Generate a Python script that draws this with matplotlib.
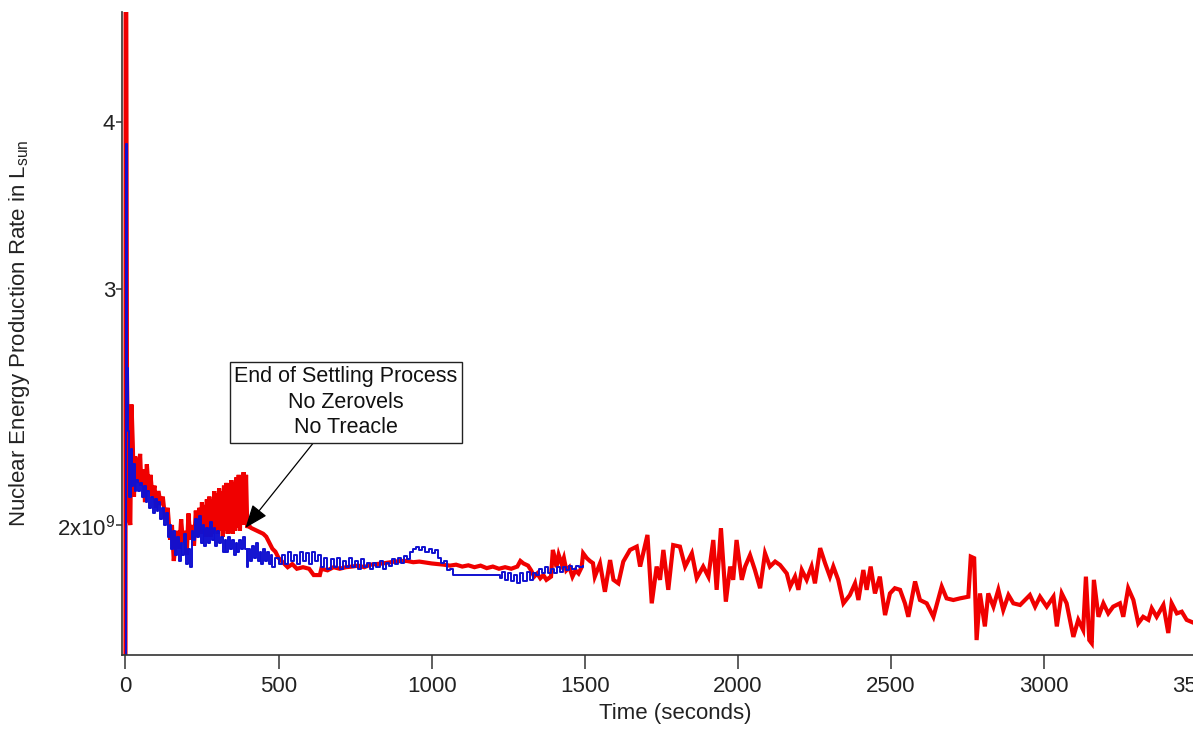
import numpy as np
import matplotlib
matplotlib.use("Agg")
import matplotlib.pyplot as plt

plt.rcParams['font.family'] = ['Liberation Sans', 'DejaVu Sans']
plt.rcParams['mathtext.default'] = 'regular'

# values: (time in s, rate in units of 1e9 L_sun)
red_pts = [
    (0, 1.00), (1, 8.00), (5, 2.60), (9, 2.20), (12, 2.02), (16, 2.00), (20, 2.46),
    (24, 2.30), (28, 2.10), (32, 2.25), (38, 2.15), (44, 2.20), (48, 2.26), (52, 2.14),
    (58, 2.20), (64, 2.08), (70, 2.22), (76, 2.12), (82, 2.18), (88, 2.10), (95, 2.14),
    (100, 2.06), (108, 2.12), (115, 2.07), (122, 2.10), (130, 2.02), (138, 2.06),
    (146, 1.95), (152, 2.00), (158, 1.88), (164, 1.94), (170, 1.98), (176, 1.92),
    (182, 2.02), (188, 1.94), (194, 1.98), (200, 1.90), (206, 2.04), (212, 1.95),
    (218, 2.00), (224, 1.93), (230, 2.05), (236, 1.96), (242, 2.06),
    (246, 1.97), (250, 2.08), (254, 1.97), (258, 2.07), (262, 1.96), (266, 2.09),
    (270, 1.98), (274, 2.10), (278, 1.96), (282, 2.09), (286, 1.97), (290, 2.12),
    (294, 1.98), (298, 2.11), (302, 1.97), (306, 2.13), (310, 1.98), (314, 2.12),
    (318, 1.96), (322, 2.14), (326, 1.98), (330, 2.15), (334, 1.97), (338, 2.14),
    (342, 1.99), (346, 2.16), (350, 1.97), (354, 2.15), (358, 1.98), (362, 2.17),
    (366, 1.99), (370, 2.18), (374, 1.98), (378, 2.17), (382, 2.00), (386, 2.19),
    (390, 2.00), (394, 2.18), (398, 1.99),
    (402, 2.00), (410, 1.99), (420, 1.985), (430, 1.98), (440, 1.975), (450, 1.97),
    (460, 1.96), (470, 1.94), (480, 1.92), (490, 1.91), (500, 1.89), (510, 1.88),
    (520, 1.87), (530, 1.86), (545, 1.87), (560, 1.855), (580, 1.86), (600, 1.855),
    (615, 1.835), (635, 1.835), (640, 1.855), (660, 1.85), (680, 1.86), (700, 1.855),
    (720, 1.86), (740, 1.862), (760, 1.865), (780, 1.86), (800, 1.868), (820, 1.87),
    (840, 1.872), (860, 1.875), (880, 1.878), (900, 1.88), (920, 1.88), (940, 1.876),
    (960, 1.878), (980, 1.875), (1000, 1.872), (1020, 1.87), (1040, 1.868),
    (1060, 1.865), (1080, 1.868), (1100, 1.862), (1120, 1.866), (1140, 1.86),
    (1160, 1.865), (1180, 1.857), (1200, 1.862), (1220, 1.855), (1240, 1.86),
    (1260, 1.855), (1280, 1.862), (1290, 1.88), (1300, 1.872), (1315, 1.865),
    (1325, 1.85), (1335, 1.83), (1345, 1.84), (1355, 1.825), (1365, 1.835),
    (1375, 1.82), (1390, 1.83), (1396, 1.916), (1400, 1.90), (1408, 1.86),
    (1415, 1.90), (1425, 1.87), (1432, 1.89), (1440, 1.85), (1450, 1.86),
    (1460, 1.83), (1470, 1.85), (1480, 1.84), (1490, 1.86), (1495, 1.905),
    (1507, 1.889), (1517, 1.880), (1527, 1.873), (1533, 1.830), (1550, 1.872),
    (1566, 1.783), (1583, 1.883), (1594, 1.820), (1610, 1.809), (1626, 1.878),
    (1648, 1.916), (1670, 1.927), (1681, 1.862), (1705, 1.966), (1719, 1.748),
    (1735, 1.862), (1746, 1.820), (1757, 1.916), (1773, 1.789), (1789, 1.932),
    (1811, 1.927), (1828, 1.862), (1850, 1.905), (1866, 1.825), (1887, 1.862),
    (1904, 1.830), (1920, 1.949), (1931, 1.789), (1945, 1.989), (1961, 1.753),
    (1975, 1.862), (1985, 1.820), (1996, 1.949), (2013, 1.820), (2024, 1.862),
    (2040, 1.899), (2056, 1.851), (2073, 1.794), (2089, 1.905), (2105, 1.862),
    (2122, 1.878), (2138, 1.867), (2160, 1.840), (2171, 1.799), (2187, 1.830),
    (2198, 1.789), (2209, 1.851), (2225, 1.820), (2241, 1.862), (2252, 1.809),
    (2269, 1.922), (2285, 1.873), (2301, 1.830), (2312, 1.862), (2328, 1.820),
    (2345, 1.748), (2366, 1.773), (2383, 1.809), (2394, 1.758), (2410, 1.851),
    (2421, 1.789), (2434, 1.862), (2448, 1.778), (2464, 1.830), (2481, 1.713),
    (2497, 1.778), (2513, 1.794), (2530, 1.789), (2546, 1.748), (2557, 1.708),
    (2579, 1.815), (2595, 1.758), (2617, 1.748), (2639, 1.708), (2666, 1.799),
    (2682, 1.763), (2704, 1.758), (2726, 1.763), (2753, 1.768), (2761, 1.894),
    (2772, 1.889), (2780, 1.641), (2791, 1.778), (2807, 1.680), (2818, 1.778),
    (2835, 1.738), (2851, 1.789), (2867, 1.728), (2884, 1.773), (2900, 1.748),
    (2922, 1.743), (2954, 1.773), (2971, 1.738), (2987, 1.768), (3009, 1.738),
    (3031, 1.768), (3042, 1.680), (3058, 1.778), (3074, 1.748), (3096, 1.650),
    (3112, 1.699), (3128, 1.670), (3137, 1.830), (3148, 1.641), (3156, 1.632),
    (3163, 1.820), (3178, 1.708), (3194, 1.748), (3210, 1.718), (3226, 1.738),
    (3248, 1.748), (3259, 1.708), (3275, 1.794), (3292, 1.758), (3308, 1.689),
    (3324, 1.708), (3341, 1.699), (3352, 1.733), (3368, 1.708), (3390, 1.743),
    (3406, 1.661), (3417, 1.748), (3434, 1.718), (3450, 1.723), (3466, 1.699),
    (3490, 1.690), (3510, 1.700),
]

blue_pts = [
    (0, 1.00), (1, 3.85), (5, 2.62), (9, 2.35), (13, 2.10), (17, 2.28), (21, 2.14),
    (25, 2.22), (30, 2.12), (36, 2.16), (42, 2.12), (48, 2.15), (54, 2.10), (60, 2.14),
    (66, 2.08), (72, 2.12), (78, 2.06), (84, 2.10), (90, 2.04), (96, 2.09), (102, 2.05),
    (108, 2.08), (114, 2.02), (120, 2.06), (126, 2.00), (132, 2.04), (138, 1.96),
    (144, 2.00), (150, 1.92), (156, 1.98), (162, 1.90), (168, 1.96), (174, 1.88),
    (180, 1.94), (186, 1.90), (192, 1.97), (198, 1.87), (204, 1.92), (211, 1.86),
    (216, 1.98), (222, 1.95), (228, 2.02), (234, 1.96), (240, 2.03), (246, 1.94),
    (252, 2.00), (258, 1.93), (264, 1.99), (270, 1.94), (276, 2.01), (282, 1.95),
    (288, 1.99), (294, 1.93), (300, 1.98), (306, 1.94), (312, 1.96), (318, 1.91),
    (324, 1.95), (330, 1.91), (336, 1.96), (342, 1.92), (348, 1.95), (354, 1.90),
    (360, 1.94), (366, 1.91), (372, 1.95), (378, 1.92), (384, 1.96), (390, 1.92),
    (396, 1.86), (402, 1.92), (408, 1.88), (414, 1.93), (420, 1.89), (426, 1.94),
    (432, 1.88), (438, 1.91), (444, 1.87), (450, 1.92), (456, 1.88), (462, 1.91),
    (468, 1.87), (474, 1.90), (480, 1.86), (490, 1.89), (500, 1.87), (510, 1.90),
    (520, 1.87), (530, 1.91), (540, 1.88), (550, 1.90), (560, 1.87), (570, 1.91),
    (580, 1.88), (590, 1.905), (600, 1.87), (610, 1.91), (620, 1.88), (630, 1.90),
    (640, 1.86), (650, 1.89), (660, 1.855), (670, 1.885), (680, 1.86), (690, 1.89),
    (700, 1.855), (710, 1.88), (720, 1.86), (730, 1.89), (740, 1.86), (750, 1.88),
    (760, 1.855), (770, 1.885), (780, 1.86), (790, 1.875), (800, 1.855), (810, 1.875),
    (820, 1.86), (830, 1.88), (840, 1.855), (850, 1.875), (860, 1.865), (870, 1.885),
    (880, 1.87), (890, 1.89), (900, 1.875), (910, 1.895), (920, 1.885), (930, 1.91),
    (940, 1.92), (950, 1.925), (960, 1.915), (970, 1.925), (980, 1.91), (990, 1.92),
    (1000, 1.905), (1010, 1.915), (1020, 1.89), (1030, 1.875), (1040, 1.88),
    (1050, 1.85), (1060, 1.855), (1070, 1.835), (1223, 1.825), (1230, 1.845),
    (1240, 1.82), (1250, 1.84), (1260, 1.815), (1270, 1.835), (1280, 1.81),
    (1290, 1.84), (1300, 1.815), (1310, 1.845), (1320, 1.82), (1330, 1.84),
    (1340, 1.835), (1350, 1.855), (1360, 1.84), (1370, 1.86), (1380, 1.84),
    (1390, 1.855), (1400, 1.84), (1410, 1.86), (1420, 1.845), (1430, 1.86),
    (1440, 1.85), (1450, 1.865), (1460, 1.855), (1470, 1.865), (1480, 1.86),
    (1495, 1.865),
]

y_ticks = [2e9, 3e9, 4e9]
y_tick_labels = ['2x10$^{9}$', '3', '4']
x_ticks = [0, 500, 1000, 1500, 2000, 2500, 3000, 3500]

note_text = "End of Settling Process\nNo Zerovels\nNo Treacle"
note_at = (392, 1.99e9)
note_box = (720, 2.47e9)

red_t, red_v = np.array(red_pts).T
blue_t, blue_v = np.array(blue_pts).T

fig = plt.figure(figsize=(11.93, 7.31), dpi=100)
ax = fig.add_axes([0.1023, 0.104, 0.9011, 0.8796])

ax.plot(red_t, red_v * 1e9, color='#f00000', lw=3.0, solid_joinstyle='miter')
ax.plot(blue_t, blue_v * 1e9, color='#1010d0', lw=1.4, drawstyle='steps-post')

ax.set_yscale('log')
ax.set_xlim(-11, 3500)
ax.set_ylim(1.5995e9, 4.83e9)
ax.set_yticks(y_ticks)
ax.set_yticklabels(y_tick_labels)
ax.yaxis.set_minor_locator(matplotlib.ticker.NullLocator())
ax.set_xticks(x_ticks)

for s in ['top', 'right']:
    ax.spines[s].set_visible(False)
for s in ['left', 'bottom']:
    ax.spines[s].set_color('#333333')
    ax.spines[s].set_linewidth(1.2)

ax.tick_params(axis='x', length=10, width=1.1, color='#333333', labelsize=16,
               labelcolor='#222222', pad=5)
ax.tick_params(axis='y', length=4, width=1.1, color='#333333', labelsize=16,
               labelcolor='#222222', pad=1)

ax.set_xlabel('Time (seconds)', fontsize=16, color='#222222', labelpad=3)
ax.xaxis.set_label_coords(0.515, -0.075)
ax.set_ylabel('Nuclear Energy Production Rate in L$_{sun}$', fontsize=16,
              color='#222222', labelpad=18)

ax.annotate(note_text, xy=note_at, xytext=note_box, textcoords='data',
            ha='center', va='center', fontsize=15.5, linespacing=1.3,
            color='#111111',
            bbox=dict(boxstyle='square,pad=0.2', fc='white', ec='#222222', lw=1.0),
            arrowprops=dict(arrowstyle='-|>,head_length=0.9,head_width=0.35',
                            color='black', lw=0.9, mutation_scale=16,
                            shrinkA=0, shrinkB=0))

fig.savefig('out.png', dpi=100)
